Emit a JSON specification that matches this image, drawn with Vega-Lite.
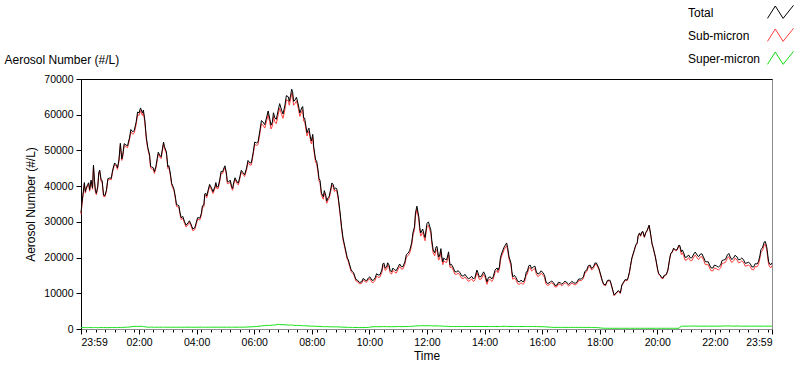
{
  "$schema": "https://vega.github.io/schema/vega-lite/v6.json",
  "width": 691,
  "height": 250,
  "autosize": "none",
  "padding": {"left": 81, "top": 79, "right": 28, "bottom": 40},
  "background": "white",
  "data": {"values": [
    {"t":0,"T":32500,"P":400,"S":32100},{"t":2,"T":35300,"P":420,"S":34880},{"t":4,"T":37500,"P":380,"S":37120},{"t":7,"T":41000,"P":400,"S":40600},{"t":9,"T":38500,"P":450,"S":38050},{"t":11,"T":39500,"P":380,"S":39120},{"t":14,"T":40500,"P":400,"S":40100},{"t":18,"T":39000,"P":420,"S":38580},{"t":21,"T":41700,"P":400,"S":41300},{"t":24,"T":39500,"P":380,"S":39120},{"t":26,"T":45900,"P":400,"S":45500},{"t":28,"T":41700,"P":450,"S":41250},{"t":32,"T":38000,"P":400,"S":37600},{"t":35,"T":40000,"P":380,"S":39620},{"t":39,"T":44500,"P":400,"S":44100},{"t":42,"T":41700,"P":420,"S":41280},{"t":47,"T":37500,"P":400,"S":37100},{"t":53,"T":38900,"P":380,"S":38520},{"t":60,"T":42300,"P":400,"S":41900},{"t":66,"T":44500,"P":420,"S":44080},{"t":74,"T":45900,"P":400,"S":45500},{"t":79,"T":47300,"P":450,"S":46850},{"t":82,"T":52000,"P":420,"S":51580},{"t":85,"T":47600,"P":400,"S":47200},{"t":87,"T":48700,"P":450,"S":48250},{"t":94,"T":51500,"P":500,"S":51000},{"t":101,"T":53500,"P":550,"S":52950},{"t":108,"T":55200,"P":700,"S":54500},{"t":115,"T":58000,"P":750,"S":57250},{"t":121,"T":60500,"P":700,"S":59800},{"t":124,"T":61900,"P":800,"S":61100},{"t":128,"T":60500,"P":700,"S":59800},{"t":133,"T":58500,"P":650,"S":57850},{"t":136,"T":53800,"P":550,"S":53250},{"t":139,"T":51000,"P":500,"S":50500},{"t":143,"T":48700,"P":500,"S":48200},{"t":147,"T":45400,"P":520,"S":44880},{"t":151,"T":45100,"P":500,"S":44600},{"t":156,"T":45400,"P":480,"S":44920},{"t":159,"T":47900,"P":500,"S":47400},{"t":164,"T":48700,"P":500,"S":48200},{"t":170,"T":50700,"P":520,"S":50180},{"t":174,"T":51000,"P":500,"S":50500},{"t":178,"T":49600,"P":500,"S":49100},{"t":181,"T":45400,"P":480,"S":44920},{"t":186,"T":43700,"P":500,"S":43200},{"t":192,"T":39800,"P":500,"S":39300},{"t":197,"T":36700,"P":480,"S":36220},{"t":202,"T":34700,"P":500,"S":34200},{"t":206,"T":32800,"P":500,"S":32300},{"t":209,"T":31100,"P":480,"S":30620},{"t":216,"T":30000,"P":500,"S":29500},{"t":223,"T":29700,"P":500,"S":29200},{"t":230,"T":29100,"P":500,"S":28600},{"t":237,"T":28300,"P":480,"S":27820},{"t":240,"T":29700,"P":500,"S":29200},{"t":246,"T":31100,"P":500,"S":30600},{"t":251,"T":32500,"P":520,"S":31980},{"t":256,"T":34700,"P":500,"S":34200},{"t":260,"T":38000,"P":500,"S":37500},{"t":265,"T":38900,"P":500,"S":38400},{"t":272,"T":39500,"P":520,"S":38980},{"t":279,"T":39800,"P":500,"S":39300},{"t":283,"T":39800,"P":500,"S":39300},{"t":289,"T":41700,"P":520,"S":41180},{"t":295,"T":44000,"P":500,"S":43500},{"t":298,"T":45100,"P":500,"S":44600},{"t":303,"T":43700,"P":500,"S":43200},{"t":308,"T":41200,"P":500,"S":40700},{"t":314,"T":39800,"P":500,"S":39300},{"t":318,"T":40900,"P":520,"S":40380},{"t":325,"T":41200,"P":500,"S":40700},{"t":331,"T":42600,"P":520,"S":42080},{"t":338,"T":43700,"P":500,"S":43200},{"t":345,"T":45100,"P":550,"S":44550},{"t":352,"T":46500,"P":600,"S":45900},{"t":359,"T":49600,"P":650,"S":48950},{"t":366,"T":52100,"P":700,"S":51400},{"t":373,"T":55700,"P":800,"S":54900},{"t":379,"T":58000,"P":900,"S":57100},{"t":387,"T":59400,"P":1000,"S":58400},{"t":393,"T":59100,"P":1000,"S":58100},{"t":399,"T":58000,"P":1100,"S":56900},{"t":404,"T":59100,"P":1100,"S":58000},{"t":411,"T":61300,"P":1300,"S":60000},{"t":418,"T":61300,"P":1200,"S":60100},{"t":425,"T":62700,"P":1200,"S":61500},{"t":432,"T":65000,"P":1100,"S":63900},{"t":437,"T":65500,"P":1100,"S":64400},{"t":441,"T":66400,"P":1100,"S":65300},{"t":446,"T":64100,"P":1000,"S":63100},{"t":453,"T":62700,"P":1000,"S":61700},{"t":460,"T":61900,"P":950,"S":60950},{"t":464,"T":59100,"P":900,"S":58200},{"t":469,"T":56600,"P":900,"S":55700},{"t":473,"T":55700,"P":850,"S":54850},{"t":478,"T":53800,"P":800,"S":53000},{"t":483,"T":54500,"P":800,"S":53700},{"t":485,"T":51000,"P":800,"S":50200},{"t":489,"T":47300,"P":750,"S":46550},{"t":494,"T":44500,"P":750,"S":43750},{"t":498,"T":41700,"P":700,"S":41000},{"t":501,"T":38100,"P":700,"S":37400},{"t":505,"T":37000,"P":650,"S":36350},{"t":510,"T":37500,"P":650,"S":36850},{"t":515,"T":36800,"P":650,"S":36150},{"t":520,"T":38900,"P":600,"S":38300},{"t":526,"T":40300,"P":600,"S":39700},{"t":531,"T":39500,"P":600,"S":38900},{"t":536,"T":37000,"P":600,"S":36400},{"t":540,"T":32500,"P":550,"S":31950},{"t":543,"T":28600,"P":550,"S":28050},{"t":546,"T":25500,"P":500,"S":25000},{"t":550,"T":23000,"P":500,"S":22500},{"t":555,"T":19900,"P":480,"S":19420},{"t":560,"T":17900,"P":450,"S":17450},{"t":566,"T":16000,"P":450,"S":15550},{"t":571,"T":14600,"P":420,"S":14180},{"t":576,"T":13700,"P":420,"S":13280},{"t":585,"T":13200,"P":400,"S":12800},{"t":592,"T":13700,"P":420,"S":13280},{"t":599,"T":14300,"P":450,"S":13850},{"t":606,"T":13700,"P":600,"S":13100},{"t":613,"T":14300,"P":650,"S":13650},{"t":619,"T":15100,"P":650,"S":14450},{"t":627,"T":16500,"P":650,"S":15850},{"t":631,"T":18500,"P":700,"S":17800},{"t":637,"T":17400,"P":650,"S":16750},{"t":642,"T":17900,"P":650,"S":17250},{"t":647,"T":16000,"P":650,"S":15350},{"t":654,"T":16500,"P":650,"S":15850},{"t":661,"T":17400,"P":700,"S":16700},{"t":668,"T":17400,"P":650,"S":16750},{"t":675,"T":18800,"P":700,"S":18100},{"t":682,"T":21300,"P":700,"S":20600},{"t":689,"T":24100,"P":750,"S":23350},{"t":695,"T":28600,"P":800,"S":27800},{"t":700,"T":34400,"P":900,"S":33500},{"t":704,"T":31400,"P":900,"S":30500},{"t":708,"T":26900,"P":900,"S":26000},{"t":712,"T":28000,"P":950,"S":27050},{"t":715,"T":26500,"P":900,"S":25600},{"t":719,"T":27700,"P":900,"S":26800},{"t":724,"T":30000,"P":950,"S":29050},{"t":727,"T":28600,"P":900,"S":27700},{"t":731,"T":24900,"P":900,"S":24000},{"t":734,"T":22100,"P":850,"S":21250},{"t":740,"T":23000,"P":900,"S":22100},{"t":745,"T":20200,"P":850,"S":19350},{"t":750,"T":22500,"P":850,"S":21650},{"t":754,"T":18800,"P":800,"S":18000},{"t":759,"T":19500,"P":750,"S":18750},{"t":766,"T":21600,"P":750,"S":20850},{"t":769,"T":17900,"P":700,"S":17200},{"t":776,"T":17100,"P":700,"S":16400},{"t":783,"T":16000,"P":700,"S":15300},{"t":790,"T":15700,"P":700,"S":15000},{"t":797,"T":14800,"P":700,"S":14100},{"t":804,"T":14600,"P":700,"S":13900},{"t":811,"T":14300,"P":700,"S":13600},{"t":818,"T":14000,"P":700,"S":13300},{"t":825,"T":16500,"P":700,"S":15800},{"t":830,"T":14600,"P":700,"S":13900},{"t":839,"T":16000,"P":700,"S":15300},{"t":846,"T":13200,"P":700,"S":12500},{"t":853,"T":14600,"P":700,"S":13900},{"t":859,"T":14600,"P":700,"S":13900},{"t":867,"T":17100,"P":700,"S":16400},{"t":872,"T":17400,"P":700,"S":16700},{"t":877,"T":21300,"P":750,"S":20550},{"t":882,"T":23000,"P":750,"S":22250},{"t":887,"T":24100,"P":750,"S":23350},{"t":892,"T":20200,"P":700,"S":19500},{"t":896,"T":18500,"P":700,"S":17800},{"t":900,"T":14600,"P":700,"S":13900},{"t":907,"T":14300,"P":700,"S":13600},{"t":914,"T":13200,"P":700,"S":12500},{"t":921,"T":13200,"P":700,"S":12500},{"t":926,"T":14600,"P":700,"S":13900},{"t":930,"T":16000,"P":700,"S":15300},{"t":936,"T":17900,"P":700,"S":17200},{"t":943,"T":17400,"P":700,"S":16700},{"t":949,"T":16000,"P":700,"S":15300},{"t":956,"T":15700,"P":650,"S":15050},{"t":963,"T":15700,"P":650,"S":15050},{"t":969,"T":13200,"P":600,"S":12600},{"t":978,"T":13200,"P":500,"S":12700},{"t":985,"T":12900,"P":450,"S":12450},{"t":992,"T":12300,"P":450,"S":11850},{"t":999,"T":12900,"P":450,"S":12450},{"t":1006,"T":13000,"P":450,"S":12550},{"t":1013,"T":12900,"P":450,"S":12450},{"t":1020,"T":12900,"P":450,"S":12450},{"t":1026,"T":13000,"P":450,"S":12550},{"t":1034,"T":13200,"P":450,"S":12750},{"t":1040,"T":14000,"P":450,"S":13550},{"t":1047,"T":14600,"P":450,"S":14150},{"t":1054,"T":16500,"P":450,"S":16050},{"t":1061,"T":17900,"P":450,"S":17450},{"t":1068,"T":17400,"P":400,"S":17000},{"t":1074,"T":18500,"P":400,"S":18100},{"t":1079,"T":17100,"P":350,"S":16750},{"t":1086,"T":13700,"P":250,"S":13450},{"t":1093,"T":12300,"P":200,"S":12100},{"t":1102,"T":13700,"P":200,"S":13500},{"t":1107,"T":11500,"P":200,"S":11300},{"t":1111,"T":9500,"P":200,"S":9300},{"t":1117,"T":10400,"P":200,"S":10200},{"t":1124,"T":10100,"P":200,"S":9900},{"t":1127,"T":12300,"P":200,"S":12100},{"t":1131,"T":13200,"P":200,"S":13000},{"t":1138,"T":13700,"P":200,"S":13500},{"t":1143,"T":16000,"P":200,"S":15800},{"t":1148,"T":19900,"P":200,"S":19700},{"t":1153,"T":22100,"P":200,"S":21900},{"t":1159,"T":24100,"P":200,"S":23900},{"t":1164,"T":26900,"P":200,"S":26700},{"t":1169,"T":27200,"P":200,"S":27000},{"t":1174,"T":25800,"P":200,"S":25600},{"t":1180,"T":27700,"P":200,"S":27500},{"t":1184,"T":29100,"P":200,"S":28900},{"t":1188,"T":25800,"P":200,"S":25600},{"t":1192,"T":23000,"P":200,"S":22800},{"t":1197,"T":20200,"P":200,"S":20000},{"t":1202,"T":16500,"P":200,"S":16300},{"t":1207,"T":15100,"P":200,"S":14900},{"t":1213,"T":14300,"P":200,"S":14100},{"t":1218,"T":15100,"P":200,"S":14900},{"t":1223,"T":16500,"P":200,"S":16300},{"t":1227,"T":19900,"P":200,"S":19700},{"t":1232,"T":21600,"P":200,"S":21400},{"t":1239,"T":22100,"P":200,"S":21900},{"t":1246,"T":23500,"P":200,"S":23300},{"t":1251,"T":21600,"P":750,"S":20850},{"t":1256,"T":21300,"P":800,"S":20500},{"t":1263,"T":20200,"P":800,"S":19400},{"t":1270,"T":19900,"P":800,"S":19100},{"t":1277,"T":21000,"P":850,"S":20150},{"t":1284,"T":20700,"P":800,"S":19900},{"t":1291,"T":21000,"P":800,"S":20200},{"t":1298,"T":19900,"P":800,"S":19100},{"t":1305,"T":18800,"P":800,"S":18000},{"t":1310,"T":17900,"P":800,"S":17100},{"t":1317,"T":17100,"P":800,"S":16300},{"t":1324,"T":17700,"P":800,"S":16900},{"t":1333,"T":17900,"P":800,"S":17100},{"t":1339,"T":19300,"P":850,"S":18450},{"t":1347,"T":20700,"P":850,"S":19850},{"t":1353,"T":20200,"P":850,"S":19350},{"t":1360,"T":19900,"P":800,"S":19100},{"t":1367,"T":20200,"P":850,"S":19350},{"t":1374,"T":19500,"P":800,"S":18700},{"t":1381,"T":19300,"P":800,"S":18500},{"t":1388,"T":18500,"P":800,"S":17700},{"t":1395,"T":18200,"P":800,"S":17400},{"t":1402,"T":17400,"P":800,"S":16600},{"t":1409,"T":18200,"P":800,"S":17400},{"t":1415,"T":20700,"P":800,"S":19900},{"t":1420,"T":22700,"P":800,"S":21900},{"t":1424,"T":24400,"P":800,"S":23600},{"t":1429,"T":23000,"P":800,"S":22200},{"t":1433,"T":18800,"P":800,"S":18000},{"t":1437,"T":17900,"P":800,"S":17100},{"t":1440,"T":18500,"P":800,"S":17700},
    {"t":16,"T":40950,"P":410,"S":40540},{"t":30,"T":38850,"P":420,"S":38430},{"t":37,"T":43750,"P":390,"S":43360},{"t":44,"T":41600,"P":400,"S":41200},{"t":50,"T":37400,"P":390,"S":37010},{"t":56,"T":42100,"P":390,"S":41710},{"t":63,"T":42200,"P":410,"S":41790},{"t":70,"T":46500,"P":410,"S":46090},{"t":76,"T":45100,"P":420,"S":44680},{"t":90,"T":51900,"P":470,"S":51430},{"t":97,"T":51300,"P":520,"S":50780},{"t":104,"T":55850,"P":620,"S":55230},{"t":111,"T":55600,"P":720,"S":54880},{"t":118,"T":60750,"P":720,"S":60030},{"t":130,"T":61300,"P":680,"S":60620},{"t":145,"T":45550,"P":510,"S":45040},{"t":153,"T":44050,"P":490,"S":43560},{"t":161,"T":49500,"P":500,"S":49000},{"t":167,"T":48200,"P":510,"S":47690},{"t":172,"T":52350,"P":510,"S":51840},{"t":183,"T":45750,"P":490,"S":45260},{"t":189,"T":40750,"P":500,"S":40250},{"t":194,"T":39050,"P":490,"S":38560},{"t":199,"T":34800,"P":490,"S":34310},{"t":204,"T":34550,"P":500,"S":34050},{"t":212,"T":31550,"P":490,"S":31060},{"t":219,"T":29050,"P":500,"S":28550},{"t":226,"T":30300,"P":500,"S":29800},{"t":233,"T":28000,"P":490,"S":27510},{"t":243,"T":31200,"P":500,"S":30700},{"t":248,"T":31100,"P":510,"S":30590},{"t":253,"T":34500,"P":510,"S":33990},{"t":258,"T":37850,"P":500,"S":37350},{"t":262,"T":37250,"P":500,"S":36750},{"t":268,"T":40500,"P":510,"S":39990},{"t":275,"T":38450,"P":510,"S":37940},{"t":281,"T":41000,"P":500,"S":40500},{"t":286,"T":39850,"P":510,"S":39340},{"t":292,"T":44150,"P":510,"S":43640},{"t":300,"T":45700,"P":500,"S":45200},{"t":305,"T":41250,"P":500,"S":40750},{"t":311,"T":41700,"P":500,"S":41200},{"t":316,"T":39350,"P":510,"S":38840},{"t":321,"T":42350,"P":510,"S":41840},{"t":328,"T":40900,"P":510,"S":40390},{"t":334,"T":44450,"P":510,"S":43940},{"t":341,"T":43200,"P":520,"S":42680},{"t":348,"T":47200,"P":570,"S":46630},{"t":355,"T":46550,"P":620,"S":45930},{"t":362,"T":52350,"P":670,"S":51680},{"t":369,"T":52400,"P":750,"S":51650},{"t":376,"T":58350,"P":850,"S":57500},{"t":383,"T":57200,"P":950,"S":56250},{"t":390,"T":61050,"P":1000,"S":60050},{"t":396,"T":57050,"P":1050,"S":56000},{"t":401,"T":60550,"P":1100,"S":59450},{"t":407,"T":58700,"P":1200,"S":57500},{"t":414,"T":63100,"P":1250,"S":61850},{"t":421,"T":60200,"P":1200,"S":59000},{"t":428,"T":65350,"P":1150,"S":64200},{"t":434,"T":63750,"P":1100,"S":62650},{"t":439,"T":67150,"P":1100,"S":66050},{"t":443,"T":63750,"P":1050,"S":62700},{"t":449,"T":64900,"P":1000,"S":63900},{"t":456,"T":60500,"P":980,"S":59520},{"t":462,"T":62300,"P":920,"S":61380},{"t":466,"T":59050,"P":900,"S":58150},{"t":471,"T":54950,"P":870,"S":54080},{"t":475,"T":56250,"P":830,"S":55420},{"t":480,"T":52650,"P":800,"S":51850},{"t":491,"T":47100,"P":750,"S":46350},{"t":496,"T":42100,"P":720,"S":41380},{"t":507,"T":38750,"P":650,"S":38100},{"t":512,"T":35850,"P":650,"S":35200},{"t":517,"T":37050,"P":620,"S":36430},{"t":523,"T":40900,"P":600,"S":40300},{"t":528,"T":39100,"P":600,"S":38500},{"t":533,"T":39250,"P":600,"S":38650},{"t":557,"T":19400,"P":470,"S":18930},{"t":563,"T":16550,"P":450,"S":16100},{"t":568,"T":15800,"P":430,"S":15370},{"t":573,"T":13850,"P":420,"S":13430},{"t":580,"T":13050,"P":410,"S":12640},{"t":588,"T":14150,"P":410,"S":13740},{"t":595,"T":13500,"P":430,"S":13070},{"t":602,"T":14600,"P":520,"S":14080},{"t":609,"T":13600,"P":620,"S":12980},{"t":616,"T":15500,"P":650,"S":14850},{"t":623,"T":15200,"P":650,"S":14550},{"t":629,"T":18200,"P":680,"S":17520},{"t":634,"T":17050,"P":680,"S":16370},{"t":639,"T":18550,"P":650,"S":17900},{"t":644,"T":16450,"P":650,"S":15800},{"t":650,"T":17050,"P":650,"S":16400},{"t":657,"T":16350,"P":680,"S":15670},{"t":664,"T":18200,"P":680,"S":17520},{"t":671,"T":17500,"P":680,"S":16820},{"t":678,"T":20850,"P":700,"S":20150},{"t":685,"T":22000,"P":720,"S":21280},{"t":692,"T":27150,"P":780,"S":26370},{"t":697,"T":32500,"P":850,"S":31650},{"t":706,"T":28350,"P":900,"S":27450},{"t":717,"T":25600,"P":900,"S":24700},{"t":721,"T":29550,"P":920,"S":28630},{"t":729,"T":27750,"P":900,"S":26850},{"t":737,"T":21350,"P":870,"S":20480},{"t":742,"T":23100,"P":870,"S":22230},{"t":747,"T":20350,"P":850,"S":19500},{"t":752,"T":20150,"P":820,"S":19330},{"t":756,"T":19850,"P":780,"S":19070},{"t":762,"T":19350,"P":750,"S":18600},{"t":772,"T":18100,"P":700,"S":17400},{"t":779,"T":16050,"P":700,"S":15350},{"t":786,"T":16350,"P":700,"S":15650},{"t":793,"T":14950,"P":700,"S":14250},{"t":800,"T":15300,"P":700,"S":14600},{"t":807,"T":14050,"P":700,"S":13350},{"t":814,"T":14750,"P":700,"S":14050},{"t":821,"T":14450,"P":700,"S":13750},{"t":827,"T":15850,"P":700,"S":15150},{"t":834,"T":14700,"P":700,"S":14000},{"t":842,"T":15200,"P":700,"S":14500},{"t":849,"T":14400,"P":700,"S":13700},{"t":856,"T":14000,"P":700,"S":13300},{"t":863,"T":16550,"P":700,"S":15850},{"t":869,"T":16450,"P":700,"S":15750},{"t":874,"T":19950,"P":720,"S":19230},{"t":889,"T":22850,"P":720,"S":22130},{"t":898,"T":16050,"P":700,"S":15350},{"t":903,"T":15050,"P":700,"S":14350},{"t":910,"T":13350,"P":700,"S":12650},{"t":917,"T":13700,"P":700,"S":13000},{"t":923,"T":13400,"P":700,"S":12700},{"t":928,"T":16000,"P":700,"S":15300},{"t":933,"T":17650,"P":700,"S":16950},{"t":939,"T":16950,"P":700,"S":16250},{"t":946,"T":17600,"P":700,"S":16900},{"t":952,"T":15350,"P":680,"S":14670},{"t":959,"T":16300,"P":650,"S":15650},{"t":966,"T":15050,"P":620,"S":14430},{"t":973,"T":12700,"P":550,"S":12150},{"t":981,"T":13450,"P":480,"S":12970},{"t":988,"T":12200,"P":450,"S":11750},{"t":995,"T":13100,"P":450,"S":12650},{"t":1002,"T":12550,"P":450,"S":12100},{"t":1009,"T":13450,"P":450,"S":13000},{"t":1016,"T":12500,"P":450,"S":12050},{"t":1023,"T":13350,"P":450,"S":12900},{"t":1030,"T":12800,"P":450,"S":12350},{"t":1037,"T":14000,"P":450,"S":13550},{"t":1043,"T":14000,"P":450,"S":13550},{"t":1050,"T":16150,"P":450,"S":15700},{"t":1057,"T":17700,"P":450,"S":17250},{"t":1064,"T":16950,"P":420,"S":16530},{"t":1071,"T":18450,"P":400,"S":18050},{"t":1082,"T":15700,"P":300,"S":15400},{"t":1089,"T":12600,"P":220,"S":12380},{"t":1097,"T":13600,"P":200,"S":13400},{"t":1104,"T":13000,"P":200,"S":12800},{"t":1120,"T":10750,"P":200,"S":10550},{"t":1134,"T":13850,"P":200,"S":13650},{"t":1140,"T":14350,"P":200,"S":14150},{"t":1145,"T":17650,"P":200,"S":17450},{"t":1156,"T":23500,"P":200,"S":23300},{"t":1161,"T":26100,"P":200,"S":25900},{"t":1166,"T":26150,"P":200,"S":25950},{"t":1171,"T":27300,"P":200,"S":27100},{"t":1177,"T":27050,"P":200,"S":26850},{"t":1190,"T":23900,"P":200,"S":23700},{"t":1199,"T":18750,"P":200,"S":18550},{"t":1204,"T":15500,"P":200,"S":15300},{"t":1210,"T":14400,"P":200,"S":14200},{"t":1215,"T":15000,"P":200,"S":14800},{"t":1220,"T":15400,"P":200,"S":15200},{"t":1229,"T":21150,"P":200,"S":20950},{"t":1235,"T":22650,"P":200,"S":22450},{"t":1242,"T":22200,"P":200,"S":22000},{"t":1248,"T":23350,"P":500,"S":22850},{"t":1253,"T":22150,"P":780,"S":21370},{"t":1259,"T":20050,"P":800,"S":19250},{"t":1266,"T":20750,"P":800,"S":19950},{"t":1273,"T":19950,"P":820,"S":19130},{"t":1280,"T":21550,"P":820,"S":20730},{"t":1287,"T":20250,"P":800,"S":19450},{"t":1294,"T":21050,"P":800,"S":20250},{"t":1301,"T":18850,"P":800,"S":18050},{"t":1307,"T":18850,"P":800,"S":18050},{"t":1313,"T":17100,"P":800,"S":16300},{"t":1320,"T":17900,"P":800,"S":17100},{"t":1328,"T":17300,"P":800,"S":16500},{"t":1336,"T":19200,"P":820,"S":18380},{"t":1343,"T":19500,"P":850,"S":18650},{"t":1350,"T":21150,"P":850,"S":20300},{"t":1356,"T":19450,"P":820,"S":18630},{"t":1363,"T":20650,"P":820,"S":19830},{"t":1370,"T":19350,"P":820,"S":18530},{"t":1377,"T":19900,"P":800,"S":19100},{"t":1384,"T":18400,"P":800,"S":17600},{"t":1391,"T":18750,"P":800,"S":17950},{"t":1398,"T":17400,"P":800,"S":16600},{"t":1405,"T":18300,"P":800,"S":17500},{"t":1412,"T":18950,"P":800,"S":18150},{"t":1417,"T":22300,"P":800,"S":21500},{"t":1426,"T":24500,"P":800,"S":23700}
  ]},
  "config": {
    "view": {"stroke": "#8c8c8c", "strokeWidth": 1},
    "font": "Liberation Sans",
    "axis": {"labelFont": "Liberation Sans", "titleFont": "Liberation Sans", "labelFontSize": 10.5, "titleFontSize": 12, "titleFontWeight": "normal", "labelColor": "#000", "titleColor": "#000", "grid": false, "tickColor": "#000", "domainColor": "#000"},
    "axisY": {"labelOverlap": false, "labelBound": false, "labelFlush": false},
    "legend": {"orient": "none", "legendX": 605, "legendY": -80, "symbolType": "M-1,0.45L-0.4,-0.5L0.2,0.45L1,-0.55", "symbolSize": 676, "symbolStrokeWidth": 1, "symbolFillColor": "transparent", "symbolOffset": 81, "labelOffset": -106, "labelFont": "Liberation Sans", "labelFontSize": 12, "labelColor": "#000", "labelAlign": "left", "labelLimit": 0, "rowPadding": 1}
  },
  "layer": [
    {
      "mark": {"type": "line", "strokeWidth": 1},
      "encoding": {
        "x": {"field": "t", "type": "quantitative", "scale": {"domain": [0, 1440], "nice": false, "zero": false}, "axis": {"orient": "top", "ticks": false, "labels": false, "domain": true, "domainColor": "#000", "title": "Aerosol Number (#/L)", "titleX": -77, "titleY": -16, "titleAlign": "left", "titleBaseline": "alphabetic", "titleAngle": 0, "titleFontSize": 12}},
        "y": {"field": "P", "type": "quantitative", "scale": {"domain": [0, 70000], "nice": false}, "title": "Aerosol Number (#/L)", "axis": {"values": [0,10000,20000,30000,40000,50000,60000,70000], "tickSize": 5, "labelPadding": 3, "titlePadding": 6, "format": "d", "labelOverlap": false}},
        "color": {"datum": "Super-micron", "scale": {"domain": ["Total", "Sub-micron", "Super-micron"], "range": ["#000000", "#ff3c3c", "#10e010"]}, "legend": {"title": null}}
      }
    },
    {
      "mark": {"type": "line", "strokeWidth": 1},
      "encoding": {
        "x": {"field": "t", "type": "quantitative", "scale": {"domain": [0, 1440], "nice": false, "zero": false}, "axis": {"orient": "bottom", "values": [11,31,51,71,91,111,131,151,171,191,211,231,251,271,291,311,331,351,371,391,411,431,451,471,491,511,531,551,571,591,611,631,651,671,691,711,731,751,771,791,811,831,851,871,891,911,931,951,971,991,1011,1031,1051,1071,1091,1111,1131,1151,1171,1191,1211,1231,1251,1271,1291,1311,1331,1351,1371,1391,1411,1431], "labels": false, "domain": false, "tickSize": 3, "title": null}},
        "y": {"field": "S", "type": "quantitative", "scale": {"domain": [0, 70000], "nice": false}, "title": "Aerosol Number (#/L)", "axis": {"values": [0,10000,20000,30000,40000,50000,60000,70000], "tickSize": 5, "labelPadding": 3, "titlePadding": 6, "format": "d", "labelOverlap": false}},
        "color": {"datum": "Sub-micron", "legend": {"title": null}}
      }
    },
    {
      "mark": {"type": "line", "strokeWidth": 1},
      "encoding": {
        "x": {"field": "t", "type": "quantitative", "scale": {"domain": [0, 1440], "nice": false, "zero": false}, "axis": {"orient": "bottom", "values": [0,121,241,361,481,601,721,841,961,1081,1201,1321,1440], "tickSize": 5, "labelPadding": 3, "title": "Time", "titlePadding": 3, "domainColor": "#8c8c8c", "labelOverlap": false, "labelExpr": "datum.value == 0 || datum.value == 1440 ? '23:59' : (round(datum.value/60) < 10 ? '0' : '') + round(datum.value/60) + ':00'"}},
        "y": {"field": "T", "type": "quantitative", "scale": {"domain": [0, 70000], "nice": false}, "title": "Aerosol Number (#/L)", "axis": {"values": [0,10000,20000,30000,40000,50000,60000,70000], "tickSize": 5, "labelPadding": 3, "titlePadding": 6, "format": "d", "labelOverlap": false}},
        "color": {"datum": "Total", "legend": {"title": null}}
      }
    }
  ],
  "resolve": {"axis": {"x": "independent"}}
}
